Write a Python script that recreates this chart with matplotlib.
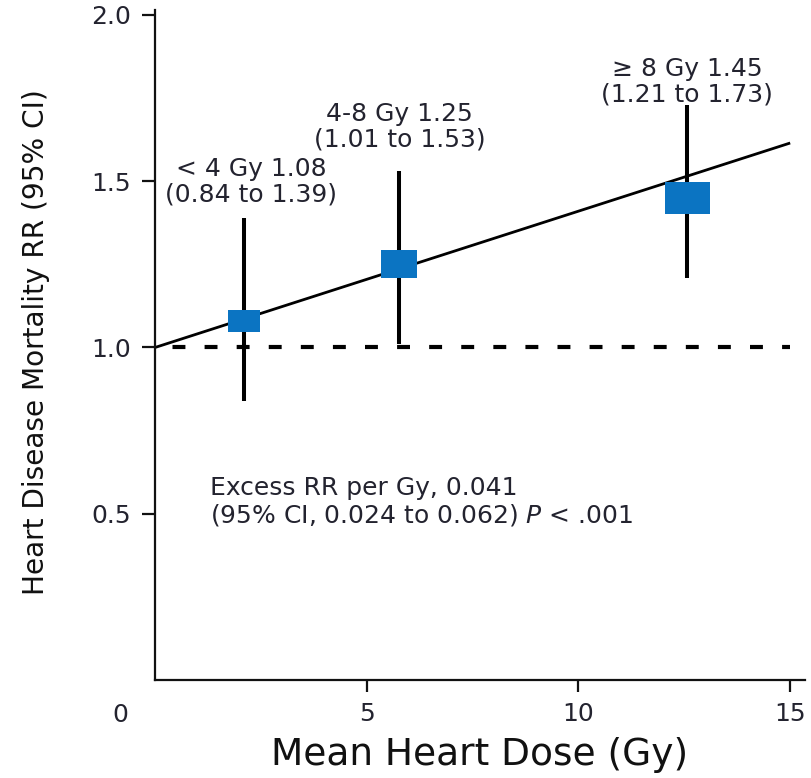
import matplotlib
matplotlib.use("Agg")
import matplotlib.pyplot as plt
import numpy as np
from matplotlib import font_manager

# ---- data ----
groups = ["< 4 Gy", "4-8 Gy", "\u2265 8 Gy"]
mean_dose = [2.1, 5.77, 12.57]
rr = [1.08, 1.25, 1.45]
ci_low = [0.84, 1.01, 1.21]
ci_high = [1.39, 1.53, 1.73]
excess_rr_per_gy = 0.041
excess_ci = (0.024, 0.062)
p_text = "< .001"
x_ticks = [5, 10, 15]
y_ticks = [0.5, 1.0, 1.5, 2.0]
y_ticklabels = ["0.5", "1.0", "1.5", "2.0"]
x_max_line = 15

# ---- style ----
BLUE = "#0B74C2"
TXT = "#23232f"
marker_w_pt = [23, 26.6, 32.4]
marker_h_ratio = [0.69, 0.78, 0.73]
label_dy_pt = [8, 14, -1.5]
label_dx_pt = [5, 0, 0]

names = {f.name for f in font_manager.fontManager.ttflist}
if "Liberation Sans Narrow" in names:
    ylab_font = dict(family=["Liberation Sans Narrow", "DejaVu Sans"], fontsize=27)
else:
    ylab_font = dict(family=["DejaVu Sans"], fontsize=20.2)

plt.rcParams["font.family"] = ["DejaVu Sans"]

fig = plt.figure(figsize=(8.12, 7.78), dpi=100)
ax = fig.add_axes([155 / 812, (778 - 680) / 778, (805 - 155) / 812, 670 / 778])
ax.set_xlim(0, 15.35)
ax.set_ylim(0, 2.015)

for s in ["top", "right"]:
    ax.spines[s].set_visible(False)
for s in ["left", "bottom"]:
    ax.spines[s].set_linewidth(1.6)
    ax.spines[s].set_color("#111111")

# reference line and fitted line
ax.hlines(1.0, 0, x_max_line, colors="black", linewidth=3,
          linestyles=(3.5, (3.1, 4.6)), zorder=1)
xf = np.array([0, x_max_line])
ax.plot(xf, 1 + excess_rr_per_gy * xf, color="black", linewidth=2, zorder=2,
        solid_capstyle="butt")

# error bars and markers
for i in range(len(groups)):
    ax.plot([mean_dose[i], mean_dose[i]], [ci_low[i], ci_high[i]],
            color="black", linewidth=2.9, zorder=3, solid_capstyle="butt")
    h = marker_h_ratio[i] / 2
    verts = [(-0.5, -h), (0.5, -h), (0.5, h), (-0.5, h), (-0.5, -h)]
    ax.plot([mean_dose[i]], [rr[i]], marker=verts, markersize=marker_w_pt[i],
            color=BLUE, markeredgewidth=0, linestyle="none", zorder=4)
    ax.annotate(f"{groups[i]} {rr[i]:.2f}\n({ci_low[i]:.2f} to {ci_high[i]:.2f})",
                xy=(mean_dose[i], ci_high[i]), xytext=(label_dx_pt[i], label_dy_pt[i]),
                textcoords="offset points", ha="center", va="bottom",
                fontsize=18, color=TXT, linespacing=1.08)

ax.text(1.3, 0.615,
        f"Excess RR per Gy, {excess_rr_per_gy:.3f}\n"
        f"(95% CI, {excess_ci[0]:.3f} to {excess_ci[1]:.3f}) $\\mathit{{P}}$ {p_text}",
        ha="left", va="top", fontsize=18, color=TXT, linespacing=1.1)

ax.set_xticks(x_ticks)
ax.set_xticklabels([str(t) for t in x_ticks])
ax.set_yticks(y_ticks)
ax.set_yticklabels(y_ticklabels)
ax.tick_params(axis="x", length=8.5, width=1.6, pad=7, labelsize=18, colors="#111111",
               labelcolor=TXT)
ax.tick_params(axis="y", length=9.5, width=1.6, pad=8, labelsize=18, colors="#111111",
               labelcolor=TXT)

ax.annotate("0", xy=(0, 0), xytext=(-25, -25), textcoords="offset points",
            ha="center", va="center", fontsize=18, color=TXT)

ax.set_xlabel("Mean Heart Dose (Gy)", fontsize=27, color="#111111", labelpad=8)
fig.text(36 / 812, 1 - 342 / 778, "Heart Disease Mortality RR (95% CI)",
         rotation=90, ha="center", va="center", color="#111111", **ylab_font)

fig.savefig("out.png", dpi=100)
